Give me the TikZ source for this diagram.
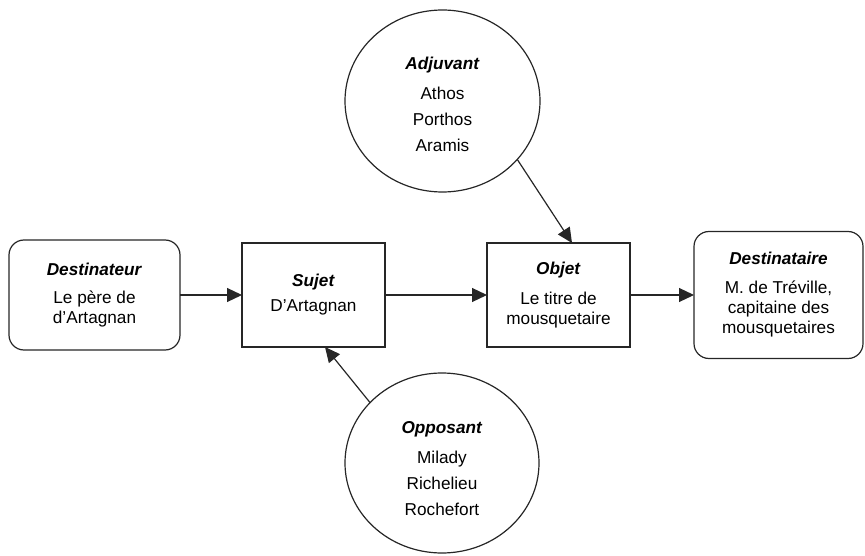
\documentclass[tikz,border=0pt]{standalone}
\usepackage{fontspec}
\setmainfont{Liberation Sans}
\usetikzlibrary{arrows.meta,shapes.geometric}
\newcommand{\ttl}[1]{\textbf{\textit{#1}}}
\begin{document}
\begin{tikzpicture}[x=1pt,y=-1pt,
  base/.style={draw=black!85, line width=1.2pt, inner sep=0pt, outer sep=0pt, align=center,
    font=\fontsize{17.2}{20}\selectfont},
  sqbox/.style={base, rectangle},
  rbox/.style={base, rectangle, rounded corners=15pt},
  circ/.style={draw=black!85, line width=1.2pt, ellipse, inner sep=0pt, outer sep=0pt},
  ctext/.style={align=center, font=\fontsize{17.2}{26}\selectfont},
  arr/.style={draw=black!85, line width=1.2pt, -{Triangle[length=15pt,width=14pt]}}]
\useasboundingbox (0,0) rectangle (865,556);
\node[rbox, minimum width=171pt, minimum height=110pt] (dest) at (94.5,295)
  {\ttl{Destinateur}\\[8pt]Le père de\\d'Artagnan};
\node[sqbox, minimum width=143pt, minimum height=104pt] (suj) at (313.5,295)
  {\ttl{Sujet}\\[5pt]D'Artagnan};
\node[sqbox, minimum width=143pt, minimum height=104pt] (obj) at (558.5,295)
  {\ttl{Objet}\\[10pt]Le titre de\\mousquetaire};
\node[rbox, minimum width=169pt, minimum height=127pt] (dnt) at (778.5,295)
  {\ttl{Destinataire}\\[9pt]M. de Tréville,\\capitaine des\\mousquetaires};
\node[circ, minimum width=195pt, minimum height=182pt] (adj) at (442.5,101) {};
\node[ctext] (adjtxt) at (442.5,104)
  {\ttl{Adjuvant}\\[4pt]Athos\\Porthos\\Aramis};
\node[circ, minimum width=194pt, minimum height=180pt] (opp) at (442,463) {};
\node[ctext] (opptxt) at (442,469)
  {\ttl{Opposant}\\[4pt]Milady\\Richelieu\\Rochefort};
\coordinate (objin) at ([xshift=85pt]obj.north west);
\coordinate (sujin) at ([xshift=83pt]suj.south west);
\draw[arr] (dest.east) -- (dest.east -| suj.west);
\draw[arr] (suj.east) -- (suj.east -| obj.west);
\draw[arr] (obj.east) -- (obj.east -| dnt.west);
\draw[arr] (adj.-38) -- (objin);
\draw[arr] (opp.140) -- (sujin);
\end{tikzpicture}
\end{document}
